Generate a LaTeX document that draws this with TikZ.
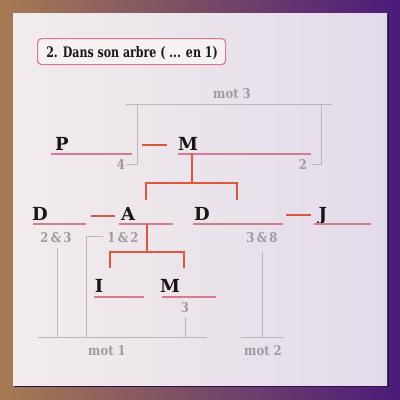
\documentclass[tikz,border=0pt]{standalone}
\usepackage{fontspec}
\newfontfamily\slab{DejaVu Serif}
\newfontfamily\slabnum[FakeStretch=0.86]{DejaVu Serif}
\newfontfamily\slabtitle[FakeStretch=0.76]{DejaVu Serif}
\definecolor{bgL}{HTML}{A67B52}
\definecolor{bgR}{HTML}{4A1B7A}
\definecolor{pnL}{HTML}{F2ECEC}
\definecolor{pnR}{HTML}{E3DBEA}
\definecolor{pinkline}{HTML}{D9798F}
\definecolor{redline}{HTML}{E0553F}
\definecolor{grayline}{HTML}{BDB5BD}
\definecolor{graytext}{HTML}{9F99A2}
\definecolor{ink}{HTML}{1A1418}
\definecolor{shadowc}{HTML}{2E1050}
\begin{document}
\begin{tikzpicture}[x=1pt,y=-1pt,
 letter/.style={font=\slab\bfseries\fontsize{18}{18}\selectfont, text=ink, inner sep=0pt, anchor=base},
 num/.style={font=\slabnum\bfseries\fontsize{13.5}{13.5}\selectfont, text=graytext, inner sep=0pt, anchor=base},
 uline/.style={pinkline, line width=1.4pt},
 tree/.style={redline, line width=1.6pt},
 gline/.style={grayline, line width=1pt}]
\useasboundingbox (0,0) rectangle (400,400);
\shade[left color=bgL, right color=bgR] (0,0) rectangle (400,400);
\fill[shadowc] (14,14) rectangle (389,387);
\shade[left color=pnL, right color=pnR] (13,13) rectangle (387,385);
% title
\node[draw=pinkline, line width=1.2pt, rounded corners=4pt, fill=pnL!70!white,
  minimum width=188pt, minimum height=26pt, inner sep=0pt, anchor=north west] (titlebox) at (37,38) {};
\node[font=\slabtitle\bfseries\fontsize{14.5}{14.5}\selectfont, text=ink, inner sep=0pt, anchor=base] (title) at (132,57) {2. Dans son arbre ( ... en 1)};
% mot 3 bracket
\coordinate (m3a) at (126,104); \coordinate (m3b) at (332,104);
\coordinate (m3l) at (137,104); \coordinate (m3lb) at (137,164); \coordinate (m3lt) at (127,164);
\coordinate (m3r) at (321,104); \coordinate (m3rb) at (321,164); \coordinate (m3rt) at (312,164);
\draw[gline] (m3a) -- (m3b);
\draw[gline] (m3l) -- (m3lb) -- (m3lt);
\draw[gline] (m3r) -- (m3rb) -- (m3rt);
\node[num] (mot3) at (232,98) {mot 3};
\node[num] (n4) at (121,169) {4};
\node[num] (n2) at (303,169) {2};
% row 1
\node[letter] (P) at (62,150) {P};
\node[letter] (M1) at (188,150) {M};
\coordinate (Pl) at (51,154); \coordinate (Pr) at (132,154);
\coordinate (M1l) at (178,154); \coordinate (M1r) at (311,154);
\draw[uline] (Pl) -- (Pr);
\draw[uline] (M1l) -- (M1r);
\coordinate (d1a) at (142,145); \coordinate (d1b) at (167,145);
\draw[tree] (d1a) -- (d1b);
\coordinate (t1top) at (192,154); \coordinate (t1mid) at (192,183);
\coordinate (t1l) at (146,183); \coordinate (t1r) at (237,183);
\coordinate (t1lb) at (146,200); \coordinate (t1rb) at (237,200);
\draw[tree] (t1top) -- (t1mid);
\draw[tree] (t1lb) -- (t1l) -- (t1r) -- (t1rb);
% row 2
\node[letter] (D1) at (40,220) {D};
\node[letter] (A) at (128,220) {A};
\node[letter] (D2) at (202,220) {D};
\node[letter] (J) at (323,220) {J};
\coordinate (D1l) at (33,224); \coordinate (D1r) at (86,224);
\coordinate (Al) at (119,224); \coordinate (Ar) at (173,224);
\coordinate (D2l) at (193,224); \coordinate (D2r) at (283,224);
\coordinate (Jl) at (314,224); \coordinate (Jr) at (371,224);
\draw[uline] (D1l) -- (D1r);
\draw[uline] (Al) -- (Ar);
\draw[uline] (D2l) -- (D2r);
\draw[uline] (Jl) -- (Jr);
\coordinate (d2a) at (91,216); \coordinate (d2b) at (115,216);
\coordinate (d3a) at (286,215); \coordinate (d3b) at (311,215);
\draw[tree] (d2a) -- (d2b);
\draw[tree] (d3a) -- (d3b);
\node[num] (n23) at (56,242) {2\,\&\,3};
\node[num] (n12) at (123,242) {1\,\&\,2};
\node[num] (n38) at (262,242) {3\,\&\,8};
% tree from A
\coordinate (t2top) at (147,224); \coordinate (t2mid) at (147,252);
\coordinate (t2l) at (110,252); \coordinate (t2r) at (184,252);
\coordinate (t2lb) at (110,268); \coordinate (t2rb) at (184,268);
\draw[tree] (t2top) -- (t2mid);
\draw[tree] (t2lb) -- (t2l) -- (t2r) -- (t2rb);
% row 3
\node[letter] (I) at (99,292) {I};
\node[letter] (M2) at (170,292) {M};
\coordinate (Il) at (94,297); \coordinate (Ir) at (144,297);
\coordinate (M2l) at (162,297); \coordinate (M2r) at (216,297);
\draw[uline] (Il) -- (Ir);
\draw[uline] (M2l) -- (M2r);
\node[num] (n3) at (185,312) {3};
% mot 1 / mot 2 brackets
\coordinate (b1l) at (38,337); \coordinate (b1r) at (207,337);
\coordinate (b2l) at (241,337); \coordinate (b2r) at (283,337);
\draw[gline] (b1l) -- (b1r);
\draw[gline] (b2l) -- (b2r);
\coordinate (g1t) at (57,248); \coordinate (g1b) at (57,337);
\coordinate (g2k) at (103,236); \coordinate (g2c) at (86,236); \coordinate (g2b) at (86,337);
\coordinate (g3t) at (185,317); \coordinate (g3b) at (185,337);
\coordinate (g4t) at (262,251); \coordinate (g4b) at (262,337);
\draw[gline] (g1t) -- (g1b);
\draw[gline] (g2k) -- (g2c) -- (g2b);
\draw[gline] (g3t) -- (g3b);
\draw[gline] (g4t) -- (g4b);
\node[num] (mot1) at (107,355) {mot 1};
\node[num] (mot2) at (263,355) {mot 2};
\end{tikzpicture}
\end{document}
